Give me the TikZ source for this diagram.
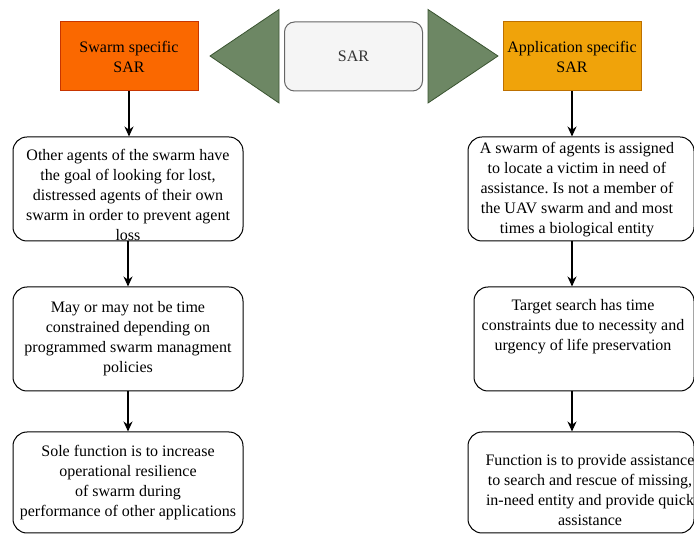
\documentclass[tikz,border=0pt]{standalone}
\usepackage{fontspec}
\setmainfont{Liberation Serif}
\frenchspacing
\usetikzlibrary{arrows.meta}
\definecolor{swarmfill}{HTML}{FA6800}
\definecolor{swarmdraw}{HTML}{C73500}
\definecolor{appfill}{HTML}{F0A30A}
\definecolor{appdraw}{HTML}{BD7000}
\definecolor{greenfill}{HTML}{6D8764}
\definecolor{greendraw}{HTML}{3A5431}
\definecolor{sarfill}{HTML}{F5F5F5}
\definecolor{sardraw}{HTML}{666666}
\definecolor{sartext}{HTML}{333333}
\begin{document}
\begin{tikzpicture}[x=1pt,y=-1pt,
  topbox/.style={draw, line width=1pt, minimum width=138pt, minimum height=69pt, inner sep=0pt, font=\fontsize{16}{20}\selectfont, align=center},
  flowbox/.style={draw, rounded corners=14pt, line width=1pt, inner sep=0pt},
  txt/.style={font=\fontsize{16}{20}\selectfont, align=center, inner sep=0pt},
  conn/.style={-{Stealth[length=10pt,width=9pt]}, line width=1.1pt},
  tri/.style={fill=greenfill, draw=greendraw, line width=0.8pt}
]
\useasboundingbox (0,0) rectangle (694,534);
\clip (0,0) rectangle (694,534);

% top row
\node[topbox, fill=swarmfill, draw=swarmdraw] (LO) at (129,56.5) {Swarm specific\\SAR};
\node[topbox, fill=sarfill, draw=sardraw, rounded corners=10pt, text=sartext] (SAR) at (353.5,56.5) {SAR};
\node[topbox, fill=appfill, draw=appdraw] (RO) at (572,56.5) {Application specific\\SAR};

\coordinate (TLa) at (210,56);
\coordinate (TLb) at (279,9.5);
\coordinate (TLc) at (279,103);
\coordinate (TRa) at (498,56);
\coordinate (TRb) at (428,9.5);
\coordinate (TRc) at (428,103);
\draw[tri] (TLa) -- (TLb) -- (TLc) -- cycle;
\draw[tri] (TRa) -- (TRb) -- (TRc) -- cycle;

% left column
\node[flowbox, minimum width=230pt, minimum height=104pt] (L1) at (128,189) {};
\node[txt] (L1t) at (128,195) {Other agents of the swarm have\\the goal of looking for lost,\\distressed agents of their own\\swarm in order to prevent agent\\loss};
\node[flowbox, minimum width=230pt, minimum height=104pt] (L2) at (128,339) {};
\node[txt] (L2t) at (128,339) {May or may not be time\\constrained depending on\\programmed swarm managment\\policies};
\node[flowbox, minimum width=230pt, minimum height=101pt] (L3) at (128,482.5) {};
\node[txt] (L3t) at (128,482.5) {Sole function is to increase\\operational resilience\\of swarm during\\performance of other applications};

% right column
\node[flowbox, minimum width=226pt, minimum height=104pt] (R1) at (581,189) {};
\node[txt] (R1t) at (577,190) {A swarm of agents is assigned\\to locate a victim in need of\\assistance. Is not a member of\\the UAV swarm and and most\\times a biological entity};
\node[flowbox, minimum width=220pt, minimum height=104pt] (R2) at (584,339) {};
\node[txt] (R2t) at (583,327) {Target search has time\\constraints due to necessity and\\urgency of life preservation};
\node[flowbox, minimum width=226pt, minimum height=101pt] (R3) at (581,482.5) {};
\node[txt] (R3t) at (590,490) {Function is to provide assistance\\to search and rescue of missing,\\in-need entity and provide quick\\assistance};

% connectors
\draw[conn] (LO.south) -- (LO.south |- L1.north);
\draw[conn] (L1.south) -- (L2.north);
\draw[conn] (L2.south) -- (L3.north);
\draw[conn] (RO.south) -- (RO.south |- R1.north);
\draw[conn] (R1.south -| RO.south) -- (RO.south |- R2.north);
\draw[conn] (R2.south -| RO.south) -- (RO.south |- R3.north);
\end{tikzpicture}
\end{document}
